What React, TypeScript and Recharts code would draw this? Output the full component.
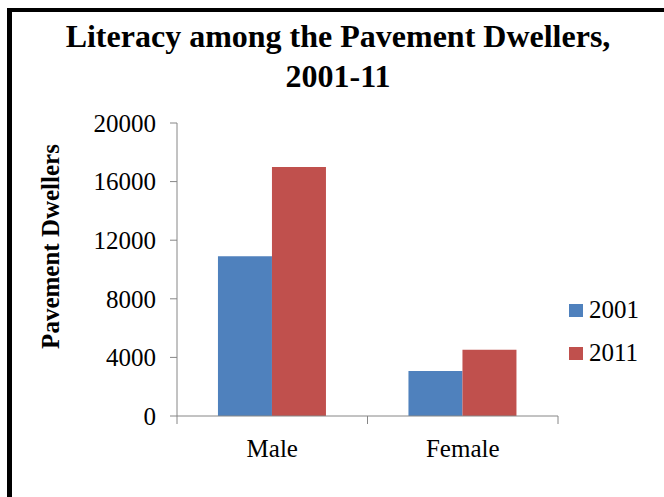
import React from 'react';
import { BarChart, Bar, XAxis, YAxis, Label } from 'recharts';

const categories = ['Male', 'Female'];
const values2001 = [10900, 3080];
const values2011 = [17000, 4530];
const seriesNames = ['2001', '2011'];
const seriesColors = ['#4F81BD', '#C0504D'];
const yTicks = [0, 4000, 8000, 12000, 16000, 20000];

const chartData = categories.map((name, i) => ({
  name,
  y2001: values2001[i],
  y2011: values2011[i],
}));

const FONT = '"Liberation Serif", "Times New Roman", serif';
const AXIS_GREY = '#868686';

// Excel-style category axis: tick marks sit between categories, not under them
const CategoryTick = (props: any) => {
  const { x, y, payload, index } = props;
  const half = payload && payload.offset ? payload.offset : (558 - 177) / categories.length / 2;
  const isLast = index === categories.length - 1;
  return (
    <g>
      <line x1={x - half} x2={x - half} y1={y} y2={y + 8} stroke={AXIS_GREY} strokeWidth={1} />
      {isLast && <line x1={x + half} x2={x + half} y1={y} y2={y + 8} stroke={AXIS_GREY} strokeWidth={1} />}
      <text x={x} y={y + 41} textAnchor="middle" fontFamily={FONT} fontSize={25} fill="#000">
        {payload.value}
      </text>
    </g>
  );
};

const YTitle = (props: any) => {
  const { viewBox } = props;
  const cx = viewBox.x - 27;
  const cy = viewBox.y + viewBox.height / 2 - 23;
  return (
    <text
      x={cx}
      y={cy}
      transform={`rotate(-90, ${cx}, ${cy})`}
      textAnchor="middle"
      dominantBaseline="central"
      fontFamily={FONT}
      fontWeight="bold"
      fontSize={25}
      fill="#000"
    >
      Pavement Dwellers
    </text>
  );
};

export default function App() {
  return (
    <div
      style={{
        position: 'absolute',
        left: 0,
        top: 0,
        width: 664,
        height: 497,
        overflow: 'hidden',
        background: '#fff',
        fontFamily: FONT,
      }}
    >
      {/* frame, cropped on the right and bottom like the source */}
      <div
        style={{
          position: 'absolute',
          left: 7,
          top: 8,
          width: 700,
          height: 520,
          borderLeft: '5px solid #000',
          borderTop: '4px solid #000',
        }}
      />
      <div
        style={{
          position: 'absolute',
          left: 0,
          width: 676,
          top: 16,
          textAlign: 'center',
          fontWeight: 'bold',
          fontSize: 32,
          lineHeight: '40px',
          color: '#000',
        }}
      >
        Literacy among the Pavement Dwellers,
        <br />
        2001-11
      </div>

      <BarChart
        width={664}
        height={497}
        data={chartData}
        margin={{ top: 123, right: 106, bottom: 41, left: 77 }}
        barCategoryGap="21.5%"
        barGap={0}
        style={{ position: 'absolute', left: 0, top: 0 }}
      >
        <XAxis
          dataKey="name"
          height={40}
          tickSize={0}
          tickMargin={0}
          axisLine={{ stroke: AXIS_GREY, strokeWidth: 1 }}
          tickLine={false}
          tick={<CategoryTick />}
          interval={0}
        />
        <YAxis
          width={100}
          domain={[0, 20000]}
          ticks={yTicks}
          interval={0}
          tickSize={7}
          tickMargin={14}
          axisLine={{ stroke: AXIS_GREY, strokeWidth: 1 }}
          tickLine={{ stroke: AXIS_GREY, strokeWidth: 1 }}
          tick={{ fontFamily: FONT, fontSize: 25, fill: '#000' }}
        >
          <Label content={<YTitle />} />
        </YAxis>
        <Bar dataKey="y2001" name={seriesNames[0]} fill={seriesColors[0]} isAnimationActive={false} />
        <Bar dataKey="y2011" name={seriesNames[1]} fill={seriesColors[1]} isAnimationActive={false} />
      </BarChart>

      <div style={{ position: 'absolute', left: 569, top: 294 }}>
        {seriesNames.map((s, i) => (
          <div key={s} style={{ display: 'flex', alignItems: 'center', height: 32, marginBottom: 11 }}>
            <span style={{ width: 14, height: 13, background: seriesColors[i], display: 'inline-block' }} />
            <span style={{ marginLeft: 6, fontSize: 25, color: '#000', lineHeight: '32px' }}>{s}</span>
          </div>
        ))}
      </div>
    </div>
  );
}
